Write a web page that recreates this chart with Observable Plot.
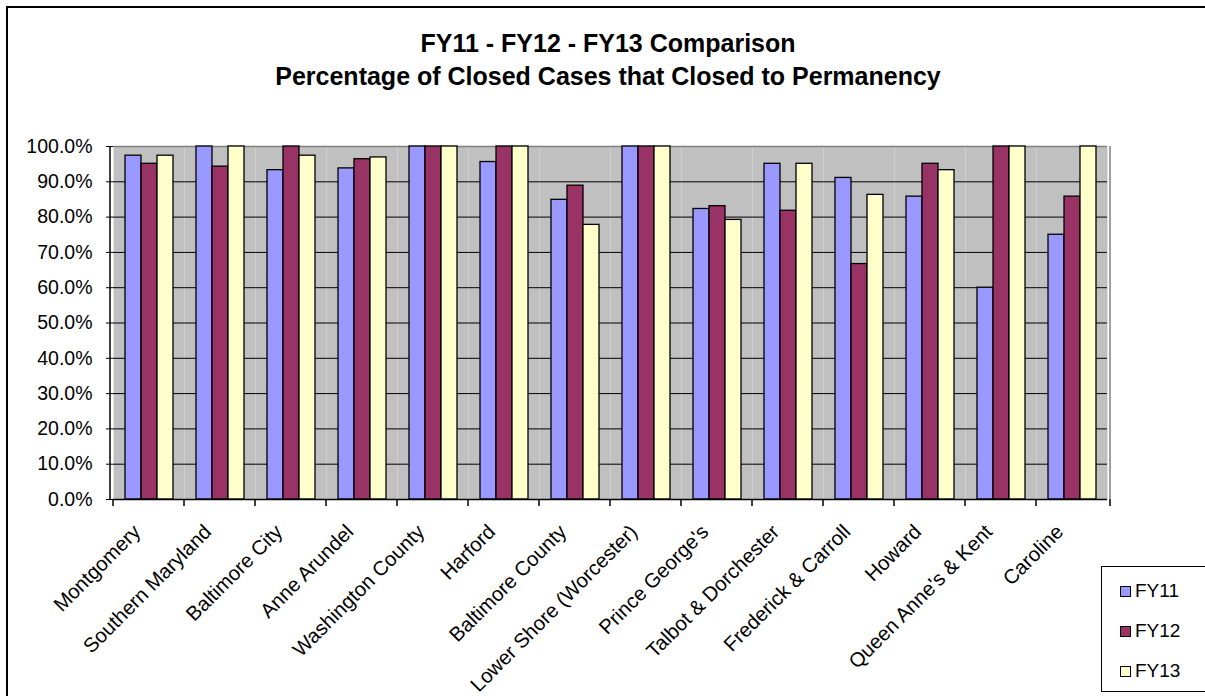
<!DOCTYPE html>
<html>
<head>
<meta charset="utf-8">
<script src="https://cdn.jsdelivr.net/npm/d3@7"></script>
<script src="https://cdn.jsdelivr.net/npm/@observablehq/plot@0.6"></script>
<style>
  html, body { margin: 0; padding: 0; background: #fff; overflow: hidden; }
  body { width: 1205px; height: 696px; position: relative; font-family: Arial, "Liberation Sans", sans-serif; }
  #frame { position: absolute; left: 6px; top: 6px; width: 1240px; height: 720px; border: 2px solid #000; box-sizing: border-box; }
  #title { position: absolute; left: 0; top: 27px; width: 1216px; text-align: center; font-weight: bold; font-size: 25px; line-height: 33px; color: #000; }
  #chart { position: absolute; left: 0; top: 100px; }
  #legend { position: absolute; left: 1101px; top: 566px; width: 130px; height: 126px; border: 1px solid #000; box-sizing: border-box; background: #fff; }
  .item { position: absolute; left: 18px; font-size: 19px; line-height: 22px; height: 22px; display: flex; align-items: center; }
  .sw { width: 9px; height: 9px; border: 1px solid #000; margin-right: 4px; }
</style>
</head>
<body>
<div id="frame"></div>
<div id="title"></div>
<div id="chart"></div>
<div id="legend"></div>
<script>
const titleLines = ["FY11 - FY12 - FY13 Comparison", "Percentage of Closed Cases that Closed to Permanency"];
const categories = ["Montgomery", "Southern Maryland", "Baltimore City", "Anne Arundel", "Washington County", "Harford", "Baltimore County", "Lower Shore (Worcester)", "Prince George's", "Talbot & Dorchester", "Frederick & Carroll", "Howard", "Queen Anne's & Kent", "Caroline"];
const seriesNames = ["FY11", "FY12", "FY13"];
const fy11 = [0.974, 1.0, 0.933, 0.938, 1.0, 0.956, 0.849, 1.0, 0.823, 0.951, 0.911, 0.858, 0.60, 0.75];
const fy12 = [0.951, 0.943, 1.0, 0.964, 1.0, 1.0, 0.889, 1.0, 0.831, 0.818, 0.667, 0.951, 1.0, 0.858];
const fy13 = [0.974, 1.0, 0.974, 0.969, 1.0, 1.0, 0.778, 1.0, 0.792, 0.951, 0.863, 0.933, 1.0, 1.0];
const yTicks = [0, 0.1, 0.2, 0.3, 0.4, 0.5, 0.6, 0.7, 0.8, 0.9, 1.0];
const colors = ["#9999FF", "#993366", "#FFFFCC"];

const seriesValues = [fy11, fy12, fy13];
const data = [];
categories.forEach((c, i) => seriesNames.forEach((s, j) => data.push({category: c, series: s, value: seriesValues[j][i]})));

document.getElementById("title").innerHTML = titleLines.map(t => `<div>${t}</div>`).join("");

const W = 1205, H = 596;
const plot = Plot.plot({
  width: W,
  height: H,
  marginTop: 46,
  marginBottom: 197,
  marginLeft: 110,
  marginRight: 95,
  style: {fontFamily: "Arial, 'Liberation Sans', sans-serif", background: "transparent", color: "#000"},
  fx: {domain: categories, padding: 0, label: null},
  x: {domain: seriesNames, paddingInner: 0, paddingOuter: 0.7, axis: null},
  y: {domain: [0, 1], label: null},
  color: {domain: seriesNames, range: colors},
  marks: [
    Plot.frame({fill: "#C0C0C0", stroke: "none"}),
    Plot.gridY(yTicks, {stroke: "#000", strokeOpacity: 1, strokeWidth: 1}),
    Plot.ruleY([1], {stroke: "#808080", strokeWidth: 1.5}),
    Plot.barY(data, {fx: "category", x: "series", y: "value", fill: "series", stroke: "#000", strokeWidth: 1.3}),
    Plot.ruleY([0], {stroke: "#000", strokeWidth: 1.5}),
    Plot.axisY(yTicks, {tickFormat: d3.format(".1%"), tickSize: 7, tickPadding: 14, fontSize: 19.5, stroke: "#000", label: null}),
    Plot.axisFx({anchor: "bottom", tickRotate: -45, tickSize: 0, tickPadding: 18, fontSize: 20.3, label: null, dx: -12, dy: 11})
  ]
});
document.getElementById("chart").appendChild(plot);

// axis decorations from library scales: left axis line, right plot border, category boundary ticks
const fx = plot.scale("fx"), y = plot.scale("y");
const svg = d3.select(plot);
const x0 = fx.range[0], x1 = fx.range[1];
const yb = y.apply(0), yt = y.apply(1);
const g = svg.append("g");
g.append("line").attr("x1", x1).attr("x2", x1).attr("y1", yt).attr("y2", yb).attr("stroke", "#808080").attr("stroke-width", 1.5);
g.append("line").attr("x1", x0).attr("x2", x0).attr("y1", yt).attr("y2", yb).attr("stroke", "#000").attr("stroke-width", 1.5);
const bounds = categories.map(c => fx.apply(c)).concat([x1]);
g.selectAll("line.b").data(bounds).join("line").attr("class", "b")
  .attr("x1", d => d).attr("x2", d => d).attr("y1", yb).attr("y2", yb + 7)
  .attr("stroke", "#000").attr("stroke-width", 1.5);

const legend = document.getElementById("legend");
seriesNames.forEach((s, i) => {
  const d = document.createElement("div");
  d.className = "item";
  d.style.top = (13 + i * 40) + "px";
  d.innerHTML = `<span class="sw" style="background:${colors[i]}"></span><span>${s}</span>`;
  legend.appendChild(d);
});
</script>
</body>
</html>
